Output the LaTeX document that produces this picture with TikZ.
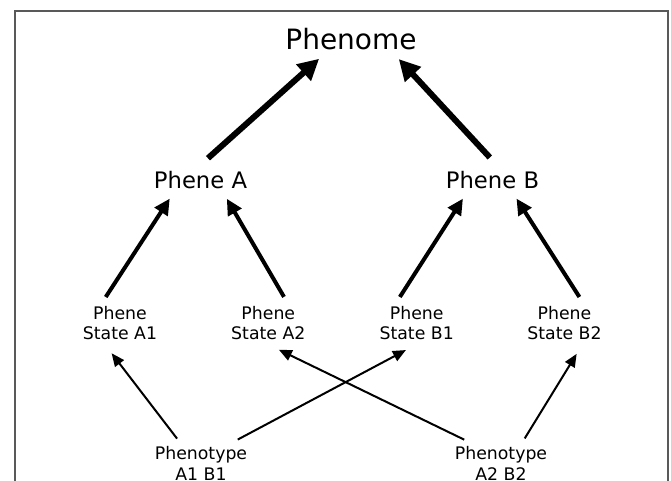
\documentclass[tikz,border=0pt]{standalone}
\usepackage{fontspec}
\setmainfont{DejaVu Sans}
\usetikzlibrary{arrows.meta}
\tikzstyle{frame}=[
        draw=black!65,
        line width=2pt
]
\tikzstyle{phenome}=[
        inner sep=5pt,
        font=\fontsize{28}{33}\selectfont
]
\tikzstyle{phene}=[
        inner sep=5pt,
        font=\fontsize{22.7}{27}\selectfont
]
\tikzstyle{state}=[
        inner sep=5pt,
        align=center,
        font=\fontsize{17.3}{20.7}\selectfont
]
\tikzstyle{heavy}=[
        line width=6pt,
        -{Triangle[length=21pt,width=21pt]},
        shorten >=5.5pt,
        shorten <=11pt
]
\tikzstyle{medium}=[
        line width=4pt,
        -{Triangle[length=16pt,width=15pt]},
        shorten >=6pt,
        shorten <=4.6pt
]
\tikzstyle{light}=[
        line width=2pt,
        -{Triangle[length=13pt,width=11pt]},
        shorten >=10pt,
        shorten <=3pt
]

\begin{document}
\begin{tikzpicture}[x=1pt,y=-1pt]
                        \useasboundingbox (0,0) rectangle (671,481);
                        \clip (0,0) rectangle (671,481);
                        \draw[frame] (15,11) rectangle (668,520);

                        \node[phenome, anchor=base] (phenome) at (351,49.5) {Phenome};

                        \node[phene, anchor=base] (pa) at (200.5,188) {Phene A};
                        \node[phene, anchor=base] (pb) at (492.5,188) {Phene B};

                        \node[state] (sa1) at (120,323.1) {Phene\\State A1};
                        \node[state] (sa2) at (268.3,323.1) {Phene\\State A2};
                        \node[state] (sb1) at (416.7,323.1) {Phene\\State B1};
                        \node[state] (sb2) at (564.5,323.1) {Phene\\State B2};

                        \node[state] (pt1) at (201,463.1) {Phenotype\\A1 B1};
                        \node[state] (pt2) at (501,463.1) {Phenotype\\A2 B2};

                        \draw[heavy] (pa.93) -- (phenome.210);
                        \draw[heavy] (pb.71) -- (phenome.340);

                        \draw[medium] (sa1.127) -- (pa.207);
                        \draw[medium] (sa2.51) -- (pa.329);
                        \draw[medium] (sb1.131) -- (pb.208);
                        \draw[medium] (sb2.52) -- (pb.326);

                        \draw[light] (pt1.135) -- (sa1.237);
                        \draw[light] (pt1.33) -- (sb1.265);
                        \draw[light] (pt2.147) -- (sa2.274);
                        \draw[light] (pt2.45) -- (sb2.308);
\end{tikzpicture}
\end{document}
